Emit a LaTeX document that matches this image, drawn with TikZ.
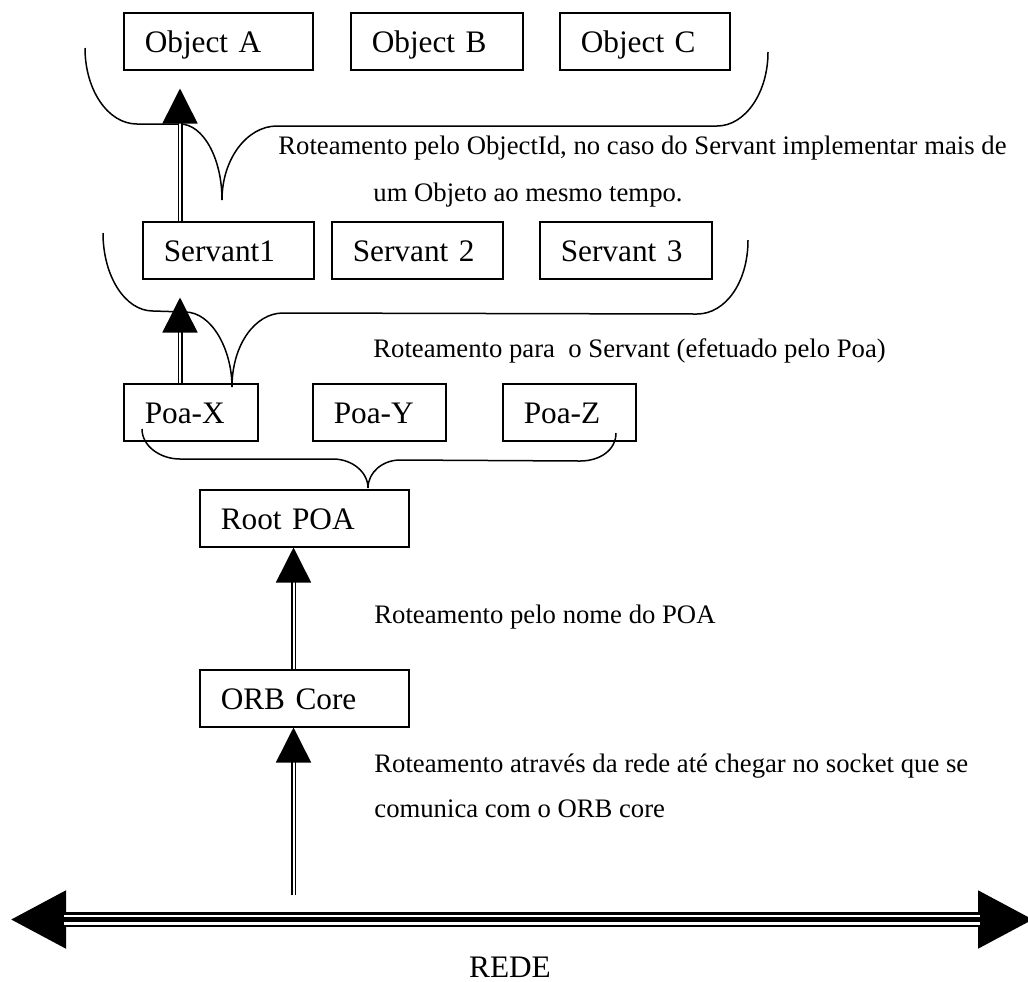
\documentclass[tikz,border=0pt]{standalone}
\usepackage{fontspec}
\setmainfont{Liberation Serif}
\usetikzlibrary{arrows.meta}

\begin{document}
\begin{tikzpicture}[x=0.5pt, y=-0.5pt]
\tikzset{
  blk/.style={draw, line width=0.75pt, anchor=north west, align=left, inner xsep=10.5pt, inner ysep=0pt,
    text height=20pt, text depth=8.5pt, font=\fontsize{15.65}{18}\selectfont},
  lbl/.style={anchor=base west, inner sep=0pt, align=left},
  uparr/.style={double, double distance=1pt, line width=0.75pt, -{Triangle[length=17.5pt, width=17.5pt]}},
  brace/.style={line width=0.75pt}
}
  \useasboundingbox (0,0) rectangle (1028,981);
  \clip (0,0) rectangle (1028,981);

  \node[blk, text width=73.5pt] (objA) at (123,12) {Object A};
  \node[blk, text width=65pt] (objB) at (350,12) {Object B};
  \node[blk, text width=64pt] (objC) at (559,12) {Object C};

  \node[blk, text width=64.5pt] (srv1) at (142,221) {Servant1};
  \node[blk, text width=64.5pt] (srv2) at (331,221) {Servant 2};
  \node[blk, text width=65pt] (srv3) at (539,221) {Servant 3};

  \node[blk, text width=46pt] (poaX) at (123,383) {Poa-X};
  \node[blk, text width=45.5pt] (poaY) at (312,383) {Poa-Y};
  \node[blk, text width=45.5pt] (poaZ) at (502,383) {Poa-Z};

  \node[blk, text width=83.5pt] (root) at (199,489) {Root POA};
  \node[blk, text width=83.5pt] (orb) at (199,669) {ORB Core};

  \draw[brace] (85,48) .. controls (85,90) and (108,124) .. (137,124) -- (180,124)
    .. controls (203,124) and (222,158) .. (222,200)
    .. controls (222,159) and (247,126) .. (277,126) -- (717,126)
    .. controls (745,126) and (768,93) .. (768,52);
  \draw[brace] (103,233) .. controls (103,276) and (125,311) .. (153,311) -- (185,312)
    .. controls (212,312) and (232,350) .. (232,387)
    .. controls (232,345) and (255,313) .. (283,313) -- (697,314)
    .. controls (725,314) and (748,283) .. (748,240);
  \draw[brace] (142,429) .. controls (142,446) and (160,459) .. (180,459) -- (333,459)
    .. controls (352,459) and (368,472) .. (368,488)
    .. controls (368,472) and (383,460) .. (400,460) -- (580,461)
    .. controls (600,461) and (616,450) .. (616,433);

  \draw[uparr] ([xshift=19pt]srv1.north west) -- ([xshift=28.5pt, yshift=-9pt]objA.south west);
  \draw[uparr] ([xshift=28.5pt]poaX.north west) -- ([xshift=19pt, yshift=-9pt]srv1.south west);
  \draw[uparr] ([xshift=47.25pt]orb.north west) -- ([xshift=47.25pt]root.south west);

  \coordinate (netL) at (10,919.5);
  \coordinate (netR) at (1034,919.5);
  \coordinate (netjoin) at (293.5,895);
  \draw[line width=7.5pt, {Triangle[length=28pt, width=27pt]}-{Triangle[length=28pt, width=27pt]}] (netL) -- (netR);
  \draw[white, line width=5pt, shorten <=27pt, shorten >=27pt] (netL) -- (netR);
  \draw[line width=2.5pt, shorten <=27pt, shorten >=27pt] (netL) -- (netR);
  \draw[uparr] (netjoin) -- ([xshift=47.25pt]orb.south west);

  \node[lbl, font=\fontsize{13.35}{23.5}\selectfont] (rotObj) at (278,201)
    {Roteamento pelo ObjectId, no caso do Servant implementar mais de\\\hspace*{47.5pt}um Objeto ao mesmo tempo.};
  \node[lbl, font=\fontsize{13.35}{16}\selectfont] (rotSrv) at (373,357) {Roteamento para~ o Servant (efetuado pelo Poa)};
  \node[lbl, font=\fontsize{13.35}{16}\selectfont] (rotPoa) at (374,623) {Roteamento pelo nome do POA};
  \node[lbl, font=\fontsize{13.35}{22.5}\selectfont] (rotNet) at (374,817)
    {Roteamento através da rede até chegar no socket que se\\comunica com o ORB core};
  \node[anchor=base, inner sep=0pt, font=\fontsize{15.65}{18}\selectfont] (rede) at (510,977) {REDE};
\end{tikzpicture}
\end{document}
